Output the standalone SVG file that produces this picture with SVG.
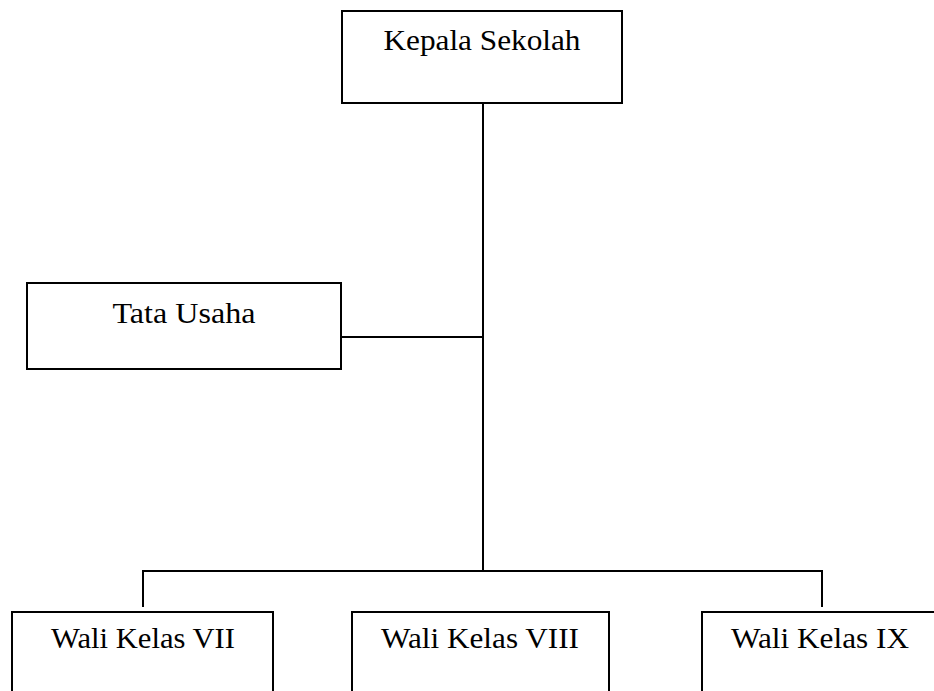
<svg xmlns="http://www.w3.org/2000/svg" width="934" height="691" viewBox="0 0 934 691">
<style>
.box{fill:#fff;stroke:#000;stroke-width:2}
.lbl{font-family:"Liberation Serif","DejaVu Serif",serif;font-size:29px;fill:#000;text-anchor:middle}
.con{stroke:#000;stroke-width:2;fill:none}
</style>
<rect width="934" height="691" fill="#fff"/>
<g id="connectors">
<path class="con" d="M483 103 V571"/>
<path class="con" d="M341 337 H483"/>
<path class="con" d="M143 571 H822"/>
<path class="con" d="M143 570 V607"/>
<path class="con" d="M822 570 V607"/>
</g>
<g id="kepala">
<rect class="box" x="342" y="11" width="280" height="92"/>
<text class="lbl" x="482" y="50" textLength="197" lengthAdjust="spacingAndGlyphs">Kepala Sekolah</text>
</g>
<g id="tata">
<rect class="box" x="27" y="283" width="314" height="86"/>
<text class="lbl" x="184" y="323" textLength="143" lengthAdjust="spacingAndGlyphs">Tata Usaha</text>
</g>
<g id="wali7">
<rect class="box" x="12" y="612" width="261" height="90"/>
<text class="lbl" x="143" y="648" textLength="184" lengthAdjust="spacingAndGlyphs">Wali Kelas VII</text>
</g>
<g id="wali8">
<rect class="box" x="352" y="612" width="257" height="90"/>
<text class="lbl" x="480" y="648" textLength="198" lengthAdjust="spacingAndGlyphs">Wali Kelas VIII</text>
</g>
<g id="wali9">
<rect class="box" x="702" y="612" width="240" height="90"/>
<text class="lbl" x="820" y="648" textLength="178" lengthAdjust="spacingAndGlyphs">Wali Kelas IX</text>
</g>
</svg>
